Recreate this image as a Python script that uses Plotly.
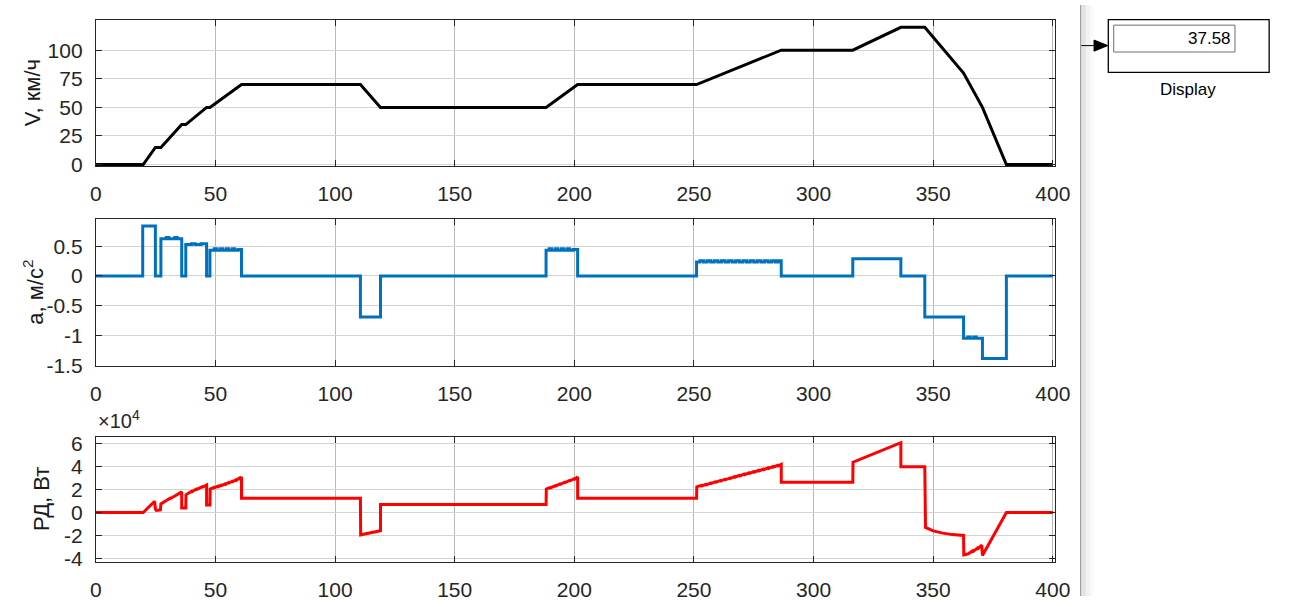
import plotly.graph_objects as go

# ---------------- data ----------------
# speed V, km/h (breakpoints of the piecewise-linear profile)
t_v = [0, 19.8, 24.9, 27.2, 35.9, 37.6, 46.3, 47.7, 60.9, 110.6, 119.0, 188.2,
       201.4, 251.1, 286.5, 316.4, 336.5, 346.5, 362.7, 370.6, 380.6, 400]
v_kmh = [0, 0, 15, 15, 35, 35, 50, 50, 70, 70, 50, 50,
         70, 70, 100, 100, 120, 120, 80, 50, 0, 0]

# acceleration a, m/s^2 (step profile, value holds until next time)
t_a = [0, 19.6, 24.9, 27.2, 29.5, 30.5, 33.0, 34.0, 35.9, 37.6, 40.0, 41.5, 44.0,
       46.3, 47.7, 49.5, 50.5, 52.0, 53.0, 54.5, 55.5, 57.0, 58.0, 59.5, 60.9,
       110.6, 119.0, 188.2, 189.5, 190.5, 192.0, 193.0, 194.5, 195.5, 197.0, 198.0,
       199.5, 201.4, 251.1, 252.5, 254.0, 255.5, 257.0, 258.5, 260.0, 261.5, 263.0,
       264.5, 266.0, 267.5, 269.0, 270.5, 272.0, 273.5, 275.0, 276.5, 278.0, 279.5,
       281.0, 282.5, 284.0, 285.2, 286.5, 316.4, 336.5, 346.5, 362.7, 364.5, 365.5,
       367.0, 368.0, 370.6, 380.6, 400]
a_ms2 = [0, 0.84, 0, 0.625, 0.645, 0.625, 0.645, 0.625, 0, 0.53, 0.54, 0.53, 0.54,
         0, 0.43, 0.455, 0.43, 0.455, 0.43, 0.455, 0.43, 0.455, 0.43, 0.445, 0,
         -0.69, 0, 0.43, 0.455, 0.43, 0.455, 0.43, 0.455, 0.43, 0.455, 0.43,
         0.445, 0, 0.235, 0.255, 0.235, 0.255, 0.235, 0.255, 0.235, 0.255, 0.235,
         0.255, 0.235, 0.255, 0.235, 0.255, 0.235, 0.255, 0.235, 0.255, 0.235, 0.255,
         0.235, 0.255, 0.235, 0.255, 0, 0.29, 0, -0.69, -1.045, -1.025, -1.045,
         -1.025, -1.045, -1.385, 0, 0]

# motor power P, W
t_p = [0, 19.8, 24.6, 24.9, 25.3, 27.0, 27.2, 29.0, 29.2, 31.0, 31.2, 33.0, 33.2,
       35.9, 35.9, 37.6, 37.7, 40.0, 40.2, 42.0, 42.2, 44.5, 44.7, 46.3, 46.3,
       47.7, 47.8, 49.5, 49.7, 51.0, 51.2, 52.5, 52.7, 54.0, 54.2, 55.5, 55.7,
       57.0, 57.2, 58.5, 58.7, 60.0, 60.2, 60.9, 60.9, 110.6, 110.7, 119.0, 119.0,
       188.2, 188.3, 190.0, 190.2, 192.0, 192.2, 194.0, 194.2, 196.0, 196.2, 198.0,
       198.2, 200.0, 200.2, 201.4, 201.4, 251.1, 251.2, 253.0, 253.2, 255.0, 255.2,
       257.0, 257.2, 259.0, 259.2, 261.0, 261.2, 263.0, 263.2, 265.0, 265.2, 267.0,
       267.2, 269.0, 269.2, 271.0, 271.2, 273.0, 273.2, 275.0, 275.2, 277.0, 277.2,
       279.0, 279.2, 281.0, 281.2, 283.0, 283.2, 285.0, 285.2, 286.5, 286.5, 316.4,
       316.5, 336.5, 336.5, 346.5, 346.8, 350.0, 354.0, 358.0, 362.7, 362.8, 364.5,
       364.7, 366.5, 366.7, 368.5, 368.7, 370.3, 370.6, 380.6, 400]
p_w = [0, 0, 9800, 3000, 1800, 2200, 7500, 10000, 9700, 12500, 12200, 15000, 14700,
       18000, 4000, 4000, 15500, 18500, 18200, 20500, 20200, 22500, 22200, 24000, 6500,
       6500, 20500, 22000, 21600, 23000, 22600, 24000, 23600, 25000, 24600, 26200, 25800,
       27300, 26900, 28500, 28100, 30000, 29700, 31000, 12500, 12500, -19500, -16000, 7000,
       7000, 20500, 22000, 21700, 23500, 23200, 25000, 24700, 26500, 26200, 28000,
       27700, 29500, 29200, 31000, 12500, 12500, 22500, 23700, 23200, 24700, 24200,
       25800, 25300, 26900, 26400, 28000, 27500, 29100, 28600, 30200, 29700, 31300,
       30800, 32400, 31900, 33500, 33000, 34600, 34100, 35700, 35200, 36800, 36300,
       37900, 37400, 39000, 38500, 40100, 39600, 41200, 40700, 42000, 26500, 26500,
       44000, 61000, 40000, 40000, -13000, -16000, -18000, -19300, -20000, -37000, -35500,
       -36000, -33500, -34000, -31000, -31500, -28500, -37500, 0, 0]

x_ticks = [0, 50, 100, 150, 200, 250, 300, 350, 400]
v_ticks = [0, 25, 50, 75, 100]
a_ticks = [-1.5, -1, -0.5, 0, 0.5]
a_ticktext = ["-1.5", "-1", "-0.5", "0", "0.5"]
p_ticks = [-40000, -20000, 0, 20000, 40000, 60000]
p_ticktext = ["-4", "-2", "0", "2", "4", "6"]
display_value = "37.58"

# ---------------- figure ----------------
W, H = 1293, 607
FONT = "Liberation Sans, Arial, Helvetica, sans-serif"
TXT = "#262626"


def px(x):
    return x / W


def py(y):
    return 1 - y / H


fig = go.Figure()
fig.add_trace(go.Scatter(x=t_v, y=v_kmh, mode="lines", xaxis="x", yaxis="y",
                         line=dict(color="#000000", width=3), showlegend=False))
fig.add_trace(go.Scatter(x=t_a, y=a_ms2, mode="lines", xaxis="x2", yaxis="y2",
                         line=dict(color="#0072BD", width=3, shape="hv"), showlegend=False))
fig.add_trace(go.Scatter(x=t_p, y=p_w, mode="lines", xaxis="x3", yaxis="y3",
                         line=dict(color="#FF0000", width=3), showlegend=False))

common = dict(showline=True, linecolor=TXT, linewidth=1, mirror="ticks",
              ticks="inside", ticklen=6, tickcolor=TXT, tickwidth=1,
              zeroline=False, showgrid=True,
              tickfont=dict(family=FONT, size=21, color=TXT))
xcommon = dict(common, range=[0, 401], tickvals=x_ticks, gridcolor="#b8b8b8",
               gridwidth=1, domain=[px(91.3), px(1066.5)], ticklabelstandoff=9)
ycommon = dict(common, gridcolor="#d4d4d4", gridwidth=1, ticklabelstandoff=8)

fig.update_layout(
    autosize=True, margin=dict(l=0, r=0, t=0, b=0),
    paper_bgcolor="white", plot_bgcolor="white",
    xaxis=dict(xcommon, anchor="y"),
    yaxis=dict(ycommon, anchor="x", domain=[py(165.3), py(15.3)],
               range=[-1.2, 126.5], tickvals=v_ticks),
    xaxis2=dict(xcommon, anchor="y2"),
    yaxis2=dict(ycommon, anchor="x2", domain=[py(370.3), py(219.3)],
                range=[-1.503, 0.964], tickvals=a_ticks, ticktext=a_ticktext),
    xaxis3=dict(xcommon, anchor="y3"),
    yaxis3=dict(ycommon, anchor="x3", domain=[py(571.7), py(443.3)],
                range=[-42900, 66300], tickvals=p_ticks, ticktext=p_ticktext),
)

ann = []
titles = [("V, км/ч", 27, 90), ("a, м/с<sup>2</sup>", 28, 295), ("РД, Вт", 36, 507)]
for text, xc, yc in titles:
    ann.append(dict(text=text, x=px(xc), y=py(yc), xref="paper", yref="paper",
                    xanchor="center", yanchor="middle", textangle=-90, showarrow=False,
                    font=dict(family=FONT, size=22, color="#1a1a1a")))
ann.append(dict(text="×10<sup>4</sup>", x=px(91), y=py(441), xref="paper", yref="paper",
                xanchor="left", yanchor="bottom", showarrow=False,
                font=dict(family=FONT, size=20, color=TXT)))
ann.append(dict(text=display_value, x=px(1247), y=py(34.5), xref="paper", yref="paper",
                xanchor="right", yanchor="middle", showarrow=False,
                font=dict(family=FONT, size=17, color="#000000")))
ann.append(dict(text="Display", x=px(1202), y=py(86.5), xref="paper", yref="paper",
                xanchor="center", yanchor="middle", showarrow=False,
                font=dict(family=FONT, size=17, color="#000000")))
fig.update_layout(annotations=ann)

shapes = []
# Simulink canvas separator with soft shadow
grad = ["#d6d6d6", "#dcdcdc", "#e2e2e2", "#e7e7e7", "#ececec", "#f0f0f0",
        "#f4f4f4", "#f7f7f7", "#fafafa", "#fcfcfc"]
for i, c in enumerate(grad):
    shapes.append(dict(type="rect", xref="paper", yref="paper",
                       x0=px(1093 + i * 1.3), x1=px(1093 + (i + 1) * 1.3), y0=0, y1=1,
                       fillcolor=c, line=dict(width=0), layer="below"))
shapes.append(dict(type="line", xref="paper", yref="paper", x0=px(1092.3), x1=px(1092.3),
                   y0=0, y1=1, line=dict(color="#9a9a9a", width=1)))
# arrow into the display block
shapes.append(dict(type="line", xref="paper", yref="paper", x0=px(1093), x1=px(1108),
                   y0=py(41.7), y1=py(41.7), line=dict(color="#000000", width=1)))
shapes.append(dict(type="path", xref="paper", yref="paper",
                   path=f"M {px(1106)} {py(36)} L {px(1120)} {py(41.7)} L {px(1106)} {py(47.4)} Z",
                   fillcolor="#000000", line=dict(color="#000000", width=1)))
# display block
shapes.append(dict(type="rect", xref="paper", yref="paper", x0=px(1120.5), x1=px(1284),
                   y0=py(69.3), y1=py(15), fillcolor="white",
                   line=dict(color="#000000", width=1.3)))
shapes.append(dict(type="rect", xref="paper", yref="paper", x0=px(1126), x1=px(1249.3),
                   y0=py(48.3), y1=py(20.7), fillcolor="white",
                   line=dict(color="#6e6e6e", width=1)))
fig.update_layout(shapes=shapes)

fig.write_html("out.html", config={"responsive": True})
